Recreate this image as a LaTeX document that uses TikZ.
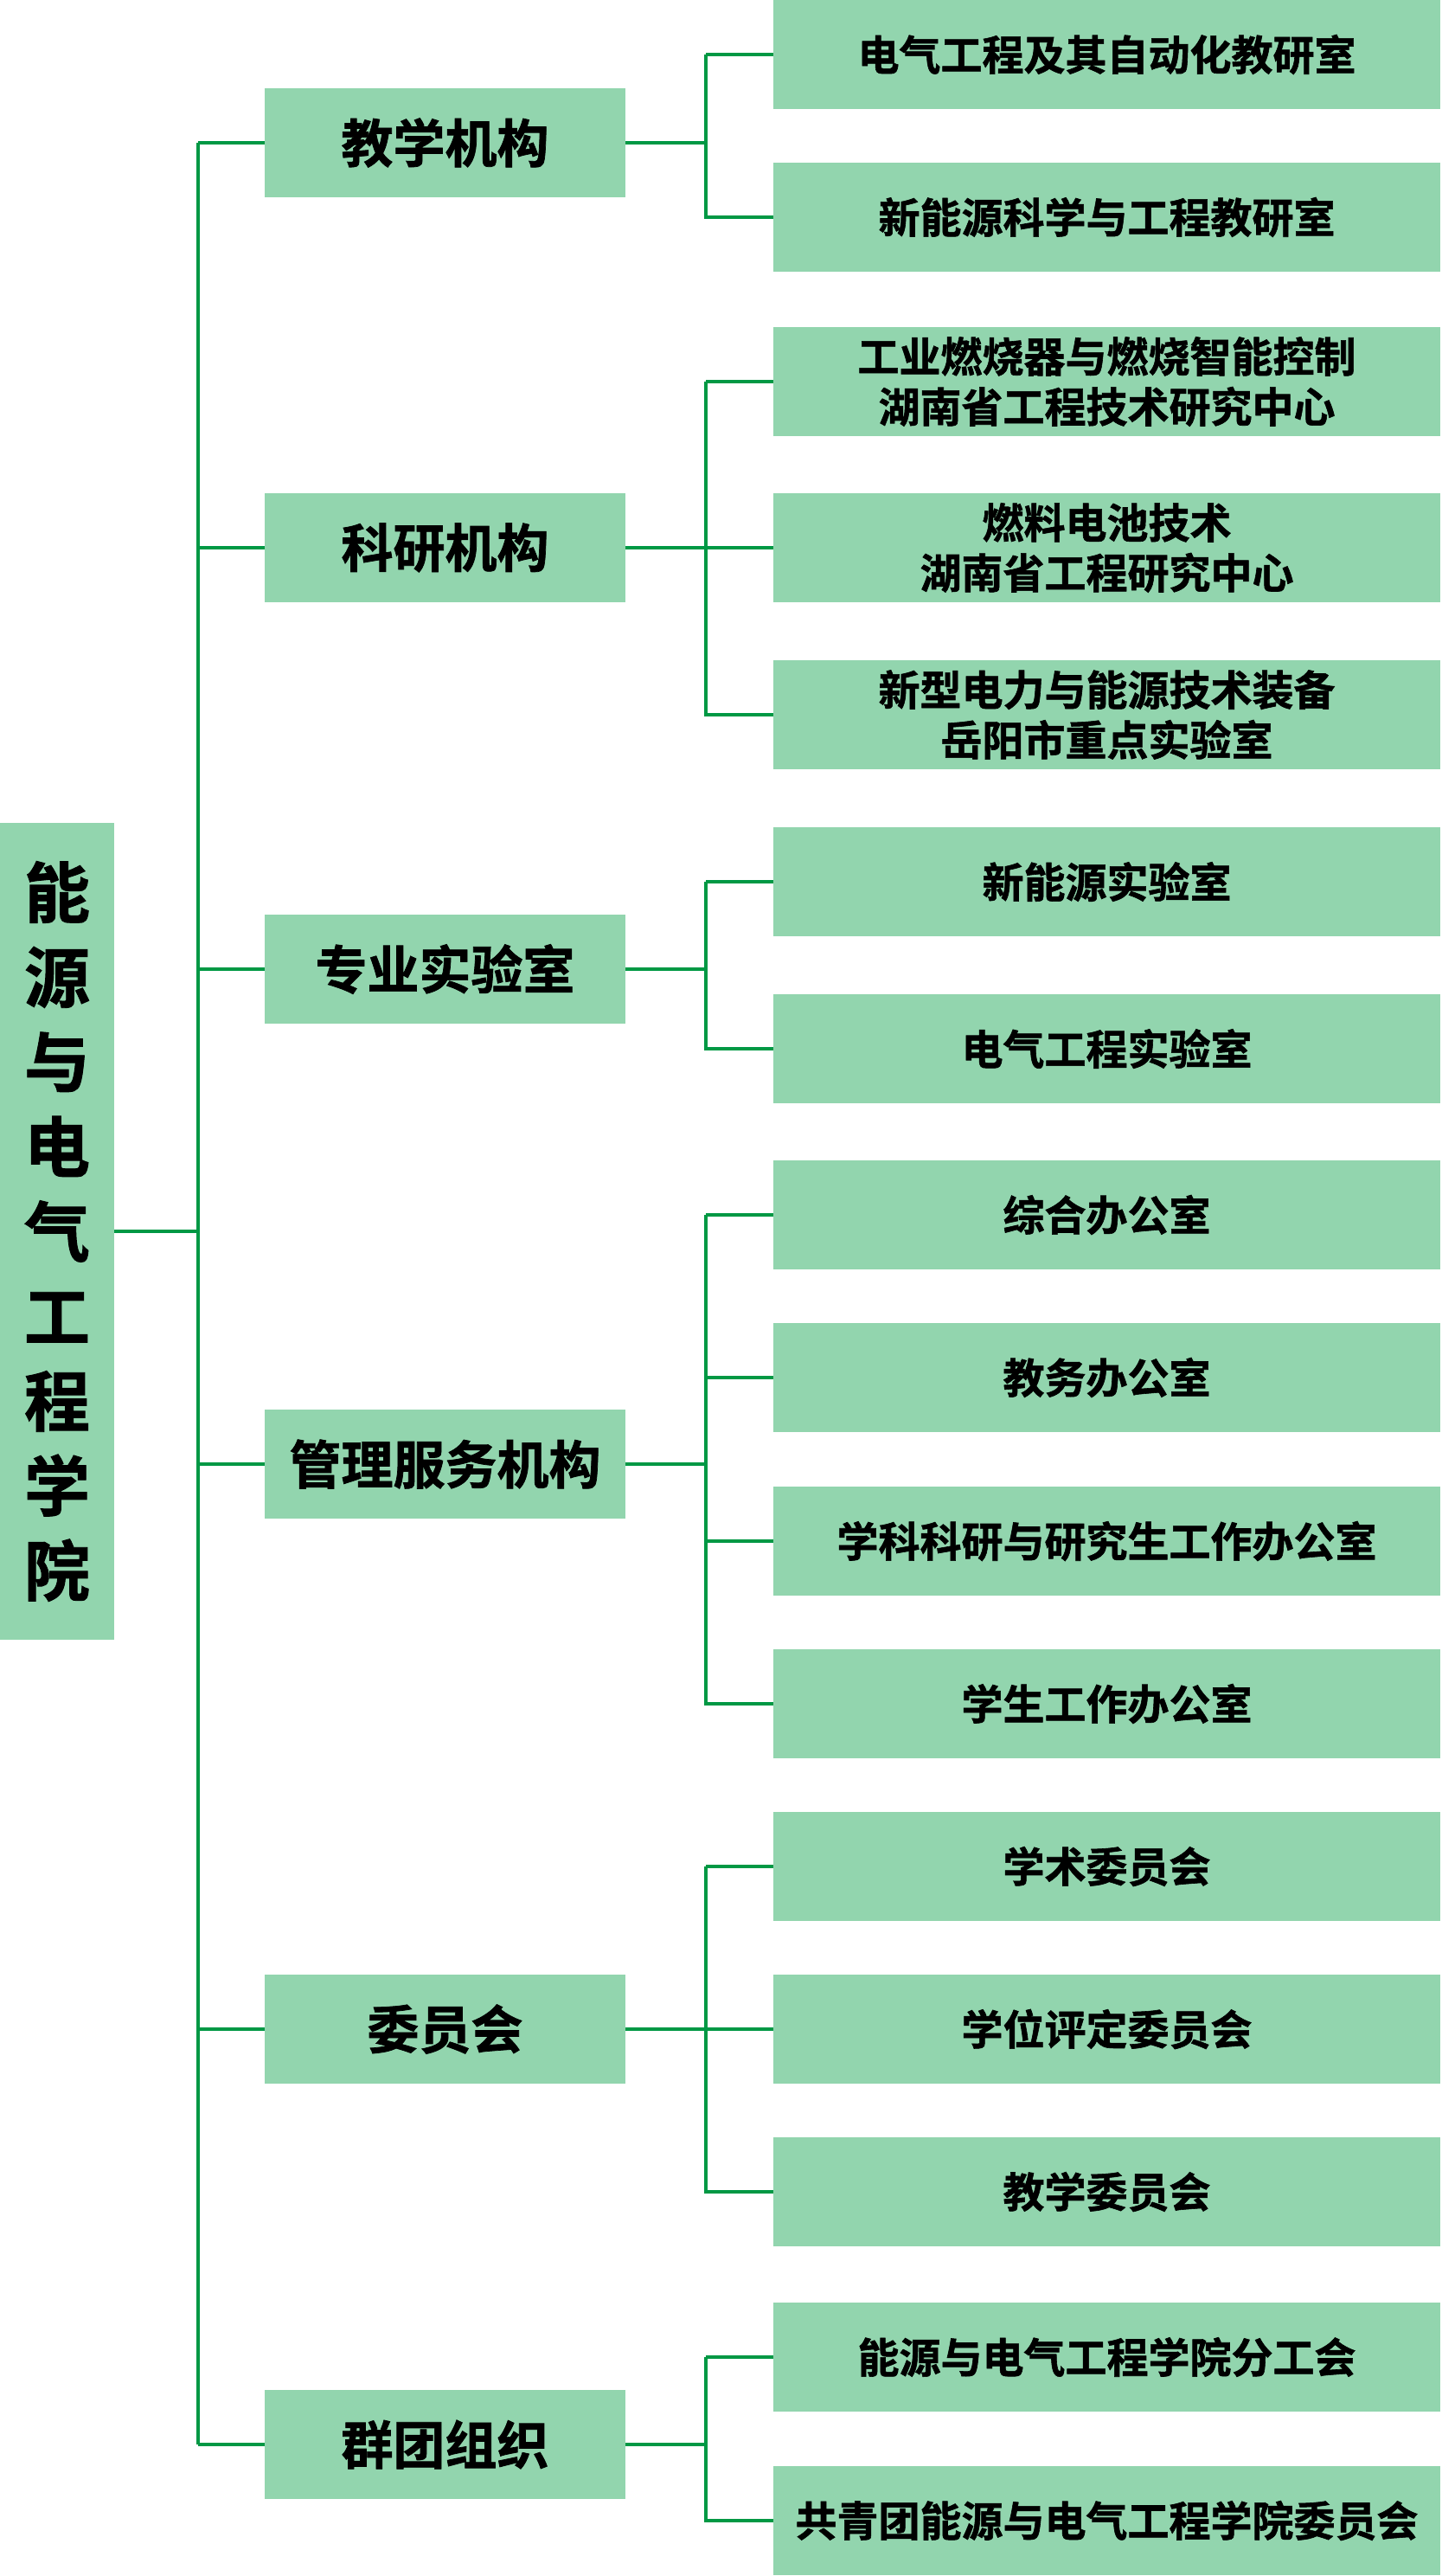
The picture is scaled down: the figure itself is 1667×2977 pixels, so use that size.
\documentclass[tikz,border=0pt]{standalone}
\usepackage{fontspec}
\setmainfont{Noto Sans CJK SC}[BoldFont={Noto Sans CJK SC Bold},BoldFeatures={FakeBold=1.2}]
\usetikzlibrary{positioning,calc}
\definecolor{boxgreen}{RGB}{146,213,174}
\definecolor{linegreen}{RGB}{0,152,68}

\begin{document}
\begin{tikzpicture}[x=1pt,y=-1pt,
	box/.style={rectangle,fill=boxgreen,inner sep=0pt,align=center},
	root/.style={box,minimum width=132pt,minimum height=944pt,font=\bfseries\fontsize{76}{98}\selectfont},
	unit/.style={box,minimum width=417pt,minimum height=126pt,font=\bfseries\fontsize{60}{72}\selectfont},
	dept/.style={box,minimum width=771pt,minimum height=126pt,font=\bfseries\fontsize{48}{58}\selectfont},
	link/.style={draw=linegreen,line width=3.5pt}]
			\useasboundingbox (0,0) rectangle (1667,2977);
			\coordinate (t) at (229,0);
			\coordinate (s) at (816,0);
			% college
			\node[root] (r) at (66,1423) {能\\源\\与\\电\\气\\工\\程\\学\\院};
			% first level
			\node[unit] (a_1) at (514.5,165) {教学机构};
			\node[unit] (a_2) at (514.5,633) {科研机构};
			\node[unit] (a_3) at (514.5,1120) {专业实验室};
			\node[unit] (a_4) at (514.5,1692) {管理服务机构};
			\node[unit] (a_5) at (514.5,2345) {委员会};
			\node[unit] (a_6) at (514.5,2825) {群团组织};
			% second level
			\node[dept] (b_1) at (1279.5,63) {电气工程及其自动化教研室};
			\node[dept] (b_2) at (1279.5,251) {新能源科学与工程教研室};
			\node[dept] (b_3) at (1279.5,441) {工业燃烧器与燃烧智能控制\\湖南省工程技术研究中心};
			\node[dept] (b_4) at (1279.5,633) {燃料电池技术\\湖南省工程研究中心};
			\node[dept] (b_5) at (1279.5,826) {新型电力与能源技术装备\\岳阳市重点实验室};
			\node[dept] (b_6) at (1279.5,1019) {新能源实验室};
			\node[dept] (b_7) at (1279.5,1212) {电气工程实验室};
			\node[dept] (b_8) at (1279.5,1404) {综合办公室};
			\node[dept] (b_9) at (1279.5,1592) {教务办公室};
			\node[dept] (b_10) at (1279.5,1781) {学科科研与研究生工作办公室};
			\node[dept] (b_11) at (1279.5,1969) {学生工作办公室};
			\node[dept] (b_12) at (1279.5,2157) {学术委员会};
			\node[dept] (b_13) at (1279.5,2345) {学位评定委员会};
			\node[dept] (b_14) at (1279.5,2533) {教学委员会};
			\node[dept] (b_15) at (1279.5,2724) {能源与电气工程学院分工会};
			\node[dept] (b_16) at (1279.5,2913) {共青团能源与电气工程学院委员会};
			% trunk
			\draw[link] (r.east) -- (r.east -| t);
			\draw[link] (a_1.west -| t) -- (a_6.west -| t);
			\draw[link] (a_1.west -| t) -- (a_1.west);
			\draw[link] (a_2.west -| t) -- (a_2.west);
			\draw[link] (a_3.west -| t) -- (a_3.west);
			\draw[link] (a_4.west -| t) -- (a_4.west);
			\draw[link] (a_5.west -| t) -- (a_5.west);
			\draw[link] (a_6.west -| t) -- (a_6.west);
			% branches
			\draw[link] (a_1.east) -- (a_1.east -| s) (b_1.west -| s) |- (b_1.west) (b_1.west -| s) |- (b_2.west);
			\draw[link] (a_2.east) -- (a_2.east -| s) (b_3.west -| s) |- (b_3.west) (b_3.west -| s) |- (b_4.west) (b_3.west -| s) |- (b_5.west);
			\draw[link] (a_3.east) -- (a_3.east -| s) (b_6.west -| s) |- (b_6.west) (b_6.west -| s) |- (b_7.west);
			\draw[link] (a_4.east) -- (a_4.east -| s) (b_8.west -| s) |- (b_8.west) (b_8.west -| s) |- (b_9.west)
				(b_8.west -| s) |- (b_10.west) (b_8.west -| s) |- (b_11.west);
			\draw[link] (a_5.east) -- (a_5.east -| s) (b_12.west -| s) |- (b_12.west) (b_12.west -| s) |- (b_13.west) (b_12.west -| s) |- (b_14.west);
			\draw[link] (a_6.east) -- (a_6.east -| s) (b_15.west -| s) |- (b_15.west) (b_15.west -| s) |- (b_16.west);
		\end{tikzpicture}
\end{document}
